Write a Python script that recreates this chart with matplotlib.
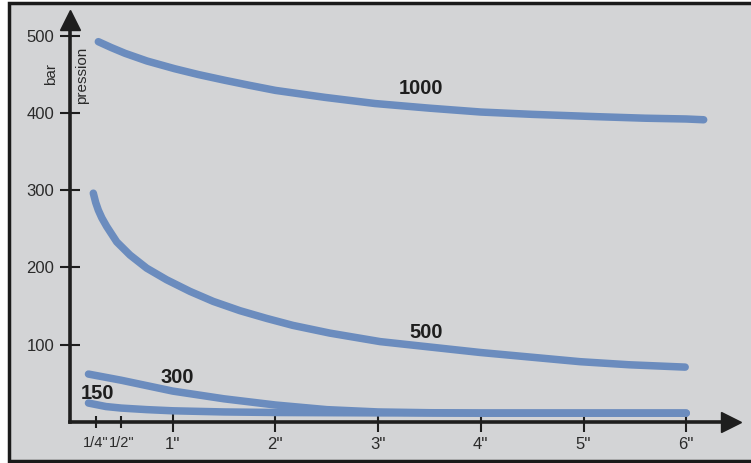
import matplotlib
matplotlib.use("Agg")
import matplotlib.pyplot as plt
from matplotlib.patches import Rectangle
import numpy as np

# courbes pression (bar) en fonction du diametre (pouces)
x_1000 = [0.276, 0.4, 0.535, 0.75, 1.02, 1.25, 1.51, 1.75, 2.0, 2.48, 2.97, 3.5, 4.0, 4.5, 5.13, 5.6, 6.0, 6.17]
y_1000 = [492, 484.5, 477, 467, 457, 449.5, 442, 435.5, 429, 420, 412, 406, 401, 398, 395, 393, 392, 391]

x_500 = [0.227, 0.25, 0.276, 0.31, 0.357, 0.455, 0.584, 0.747, 0.941, 1.168, 1.395, 1.655,
         1.915, 2.17, 2.53, 3.02, 3.505, 3.99, 4.48, 4.97, 5.45, 5.99]
y_500 = [296, 284, 274, 264, 253, 233, 216, 199, 184, 169, 156, 144,
         134, 125, 115, 104, 97, 90, 84, 78, 74, 71]

x_300 = [0.18, 0.5, 0.75, 1.0, 1.25, 1.5, 2.0, 2.5, 3.0, 3.5, 4.0, 5.0, 6.0]
y_300 = [62, 54, 47, 40, 35, 30, 22, 16, 13, 12, 11.5, 11.5, 11.5]

x_150 = [0.18, 0.35, 0.5, 0.75, 1.0, 1.5, 2.0, 3.0, 4.0, 5.0, 6.0]
y_150 = [24.5, 20, 18, 16, 14.5, 13, 12.3, 11.8, 11.5, 11.5, 11.5]

labels = ['1000', '500', '300', '150']
label_x = [3.42, 3.47, 1.04, 0.27]
label_y = [431, 116, 57, 37.5]

major_ticks = [1, 2, 3, 4, 5, 6]
major_labels = ["1''", "2''", "3''", "4''", "5''", "6''"]
minor_ticks = [0.25, 0.5]
minor_labels = ['1/4"', '1/2"']
y_ticks = [100, 200, 300, 400, 500]

bg = '#d3d4d6'
blue = '#6b8cbe'
ink = '#1e1e1e'

W, H = 751, 463
fig = plt.figure(figsize=(W / 100, H / 100), dpi=100)
fig.patch.set_facecolor('white')
fig.patches.append(Rectangle((9 / W, (H - 461) / H), 800 / W, 458 / H,
                             transform=fig.transFigure, facecolor=bg,
                             edgecolor='#1a1a1a', linewidth=2.5, zorder=0))

ax = fig.add_axes([0, 0, 1, 1])
ax.set_zorder(2)
ax.set_facecolor('none')
ox, oy = 70, 422
sx, sy = 102.7, 0.773
ax.set_xlim(-ox / sx, (W - ox) / sx)
ax.set_ylim(-(H - oy) / sy, oy / sy)

for xs, ys in [(x_1000, y_1000), (x_500, y_500), (x_300, y_300), (x_150, y_150)]:
    ax.plot(xs, ys, color=blue, lw=5.4, solid_capstyle='round',
            solid_joinstyle='round', zorder=2)

for t, lx, ly in zip(labels, label_x, label_y):
    ax.text(lx, ly, t, ha='center', va='center', fontsize=14.5, fontweight='bold',
            color=ink, family=['Liberation Sans', 'DejaVu Sans'])

# axes
for s in ['top', 'right']:
    ax.spines[s].set_visible(False)
ax.spines['left'].set_position(('data', 0))
ax.spines['bottom'].set_position(('data', 0))
ax.spines['left'].set_bounds(0, 512)
ax.spines['bottom'].set_bounds(0, 6.42)
for s in ['left', 'bottom']:
    ax.spines[s].set_linewidth(2.6)
    ax.spines[s].set_color(ink)
    ax.spines[s].set_zorder(3)
ax.plot(6.44, 0, marker='>', ms=14, color=ink, clip_on=False, zorder=4)
ax.plot(0, 520, marker='^', ms=15, color=ink, clip_on=False, zorder=4)

ax.set_xticks(major_ticks)
ax.set_xticklabels(major_labels)
ax.set_xticks(minor_ticks, minor=True)
ax.set_xticklabels(minor_labels, minor=True)
ax.set_yticks(y_ticks)
ax.set_yticklabels([str(v) for v in y_ticks])
ax.tick_params(axis='x', which='major', direction='inout', length=14,
               width=1.5, color=ink, pad=4, labelsize=12, labelcolor='#2a2a2a')
ax.tick_params(axis='x', which='minor', direction='inout', length=8,
               width=1.5, color=ink, pad=6, labelsize=10.5, labelcolor='#2a2a2a')
ax.tick_params(axis='y', direction='inout', length=15, width=1.5, color=ink,
               pad=4, labelsize=12, labelcolor='#2a2a2a')
for lab in ax.get_xticklabels(which='both') + ax.get_yticklabels():
    lab.set_family(['Liberation Sans', 'DejaVu Sans'])

ax.text(-0.18, 450, 'bar', rotation=90, ha='center', va='center', fontsize=11,
        color='#2a2a2a', family=['Liberation Sans', 'DejaVu Sans'])
ax.text(0.12, 449, 'pression', rotation=90, ha='center', va='center', fontsize=11,
        color='#2a2a2a', family=['Liberation Sans', 'DejaVu Sans'])

fig.savefig('out.png', dpi=100, facecolor='white')
